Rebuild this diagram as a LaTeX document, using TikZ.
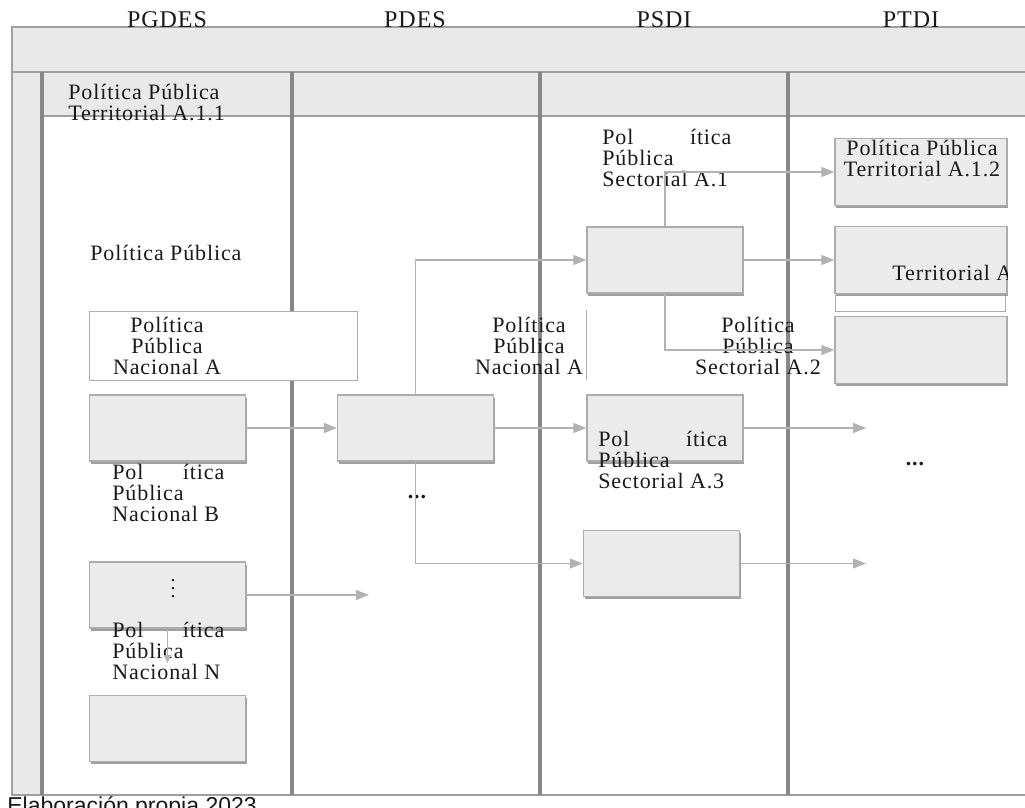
\documentclass[tikz,border=0pt]{standalone}
\usepackage{fontspec}
\setmainfont{Liberation Serif}[LetterSpace=4]
\newfontfamily\footfont{Liberation Sans}
\usetikzlibrary{positioning,arrows.meta,shadows}
\definecolor{bandgray}{RGB}{233,233,233}
\definecolor{lanegray}{RGB}{135,135,135}
\definecolor{edgegray}{RGB}{172,172,172}
\definecolor{boxgray}{RGB}{235,235,235}
\definecolor{flowgray}{RGB}{178,178,178}
\definecolor{inkgray}{RGB}{25,25,25}
\newcommand{\polsplit}[1]{\makebox[#1][s]{Pol ítica}}
\tikzset{
  pbox/.style ={rectangle, draw=edgegray, fill=boxgray, line width=0.6pt,
                minimum width=78pt, minimum height=33pt, inner sep=0pt,
                drop shadow={shadow xshift=0.5pt, shadow yshift=-1.3pt, fill=gray!75, opacity=1}},
  tbox/.style ={pbox, minimum width=86pt, minimum height=33.5pt},
  frame/.style={rectangle, draw=edgegray, fill=white, line width=0.5pt, inner sep=0pt},
  txt/.style  ={inner sep=0pt, text=inkgray, font=\fontsize{11}{10.5}\selectfont, align=left},
  ctxt/.style ={txt, align=center},
  title/.style={inner sep=0pt, text=inkgray, font=\fontsize{12}{12}\selectfont},
  lane/.style ={draw=lanegray, line width=1.6pt},
  rim/.style  ={draw=lanegray!80, line width=1.1pt},
  flow/.style ={-{Triangle[length=6.5pt, width=5pt]}, draw=flowgray, line width=0.6pt},
}
\begin{document}
\begin{tikzpicture}[x=0.5pt, y=-0.5pt]
\useasboundingbox (0,0) rectangle (1025,808);
% header bands and lanes
\fill[bandgray] (12,27) rectangle (1025,72);
\fill[bandgray] (42,72) rectangle (1025,116);
\fill[bandgray] (12,72) rectangle (42,795);
\draw[rim] (1025,27) -- (12,27) -- (12,795) -- (1025,795);
\draw[rim] (12,72) -- (1025,72);
\draw[rim] (42,116) -- (1025,116);
\foreach \x in {42,292,540,788} \draw[lane] (\x,72) -- (\x,795);
\node[title, anchor=base] (hpgdes) at (167,28) {PGDES};
\node[title, anchor=base] (hpdes) at (415,28) {PDES};
\node[title, anchor=base] (hpsdi) at (664,28) {PSDI};
\node[title, anchor=base] (hptdi) at (911,28) {PTDI};
\node[txt, anchor=north west] (lta11) at (68,84) {Política Pública\\Territorial A.1.1};

% PGDES
\node[txt, anchor=north west] (lpp) at (90,245) {Política Pública};
\node[frame, minimum width=134pt, minimum height=34.5pt] (fa) at (223,346.5) {};
\node[ctxt, anchor=north] (lna) at (167,317) {Política\\Pública\\Nacional A};
\node[pbox] (na) at (167.5,428) {};
\node[txt, anchor=north west] (lnb) at (112,464) {\polsplit{56pt}\\Pública\\Nacional B};
\node[pbox] (nn) at (167.5,595) {};
\node[inner sep=0pt, text=inkgray] (vd) at (173,583) {$\vdots$};
\node[txt, anchor=north west] (lnn) at (112,622) {\polsplit{56pt}\\Pública\\Nacional N};
\node[pbox] (nz) at (167.5,728.5) {};
\coordinate (cn) at (369,595);
\coordinate (cd) at (167.5,663);

% PDES
\node[pbox] (pd) at (415.5,428) {};
\node[inner sep=0pt, text=inkgray, font=\fontsize{11}{11}\bfseries] (dpd) at (417,497) {...};

% PSDI
\node[txt, anchor=north west] (ls1) at (602,129) {\polsplit{64.5pt}\\Pública\\Sectorial A.1};
\node[pbox] (s1) at (665,260) {};
\node[ctxt, anchor=north] (lna2) at (529,317) {Política\\Pública\\Nacional A};
\draw[edgegray, line width=0.5pt] (586,310) -- (586,380);
\node[ctxt, anchor=north] (ls2) at (758,317) {Política\\Pública\\Sectorial A.2};
\node[pbox] (s3) at (665,428) {};
\node[txt, anchor=north west] (ls3) at (598,431) {\polsplit{64.5pt}\\Pública\\Sectorial A.3};
\node[pbox] (s4) at (661.5,563.5) {};
\coordinate (c3) at (866,428);
\coordinate (c4) at (866,563.5);

% PTDI
\node[tbox] (t1) at (921,172) {};
\node[ctxt, anchor=north] (lt1) at (922,140) {Política Pública\\Territorial A.1.2};
\node[frame, minimum width=85pt, minimum height=8pt] (tbar) at (920,304) {};
\node[tbox] (t2) at (921,260) {};
\begin{scope}
\clip (t2.south west) rectangle (t2.north east);
\node[txt, anchor=north west] (lt2) at (892,265) {Territorial A};
\end{scope}
\node[tbox] (t3) at (921,350) {};
\node[inner sep=0pt, text=inkgray, font=\fontsize{11}{11}\bfseries] (dpt) at (915,464) {...};

% connectors
\draw[flow] (na) -- (pd);
\draw[flow] (nn) -- (cn);
\draw[flow, -{Triangle[length=4pt, width=3.5pt]}] (nn) -- (cd);
\draw[flow] (pd) -- (s3);
\draw[flow] (pd.north) |- (s1);
\draw[flow] (pd.south) |- (s4);
\draw[flow] (s1.north) |- (t1);
\draw[flow] (s1) -- (t2);
\draw[flow] (s1.south) |- (t3);
\draw[flow] (s3) -- (c3);
\draw[flow] (s4) -- (c4);

\node[anchor=base west, inner sep=0pt, text=inkgray, font=\footfont\fontsize{11.5}{11.5}\selectfont] (foot) at (7,813) {Elaboración propia 2023};
\end{tikzpicture}
\end{document}
